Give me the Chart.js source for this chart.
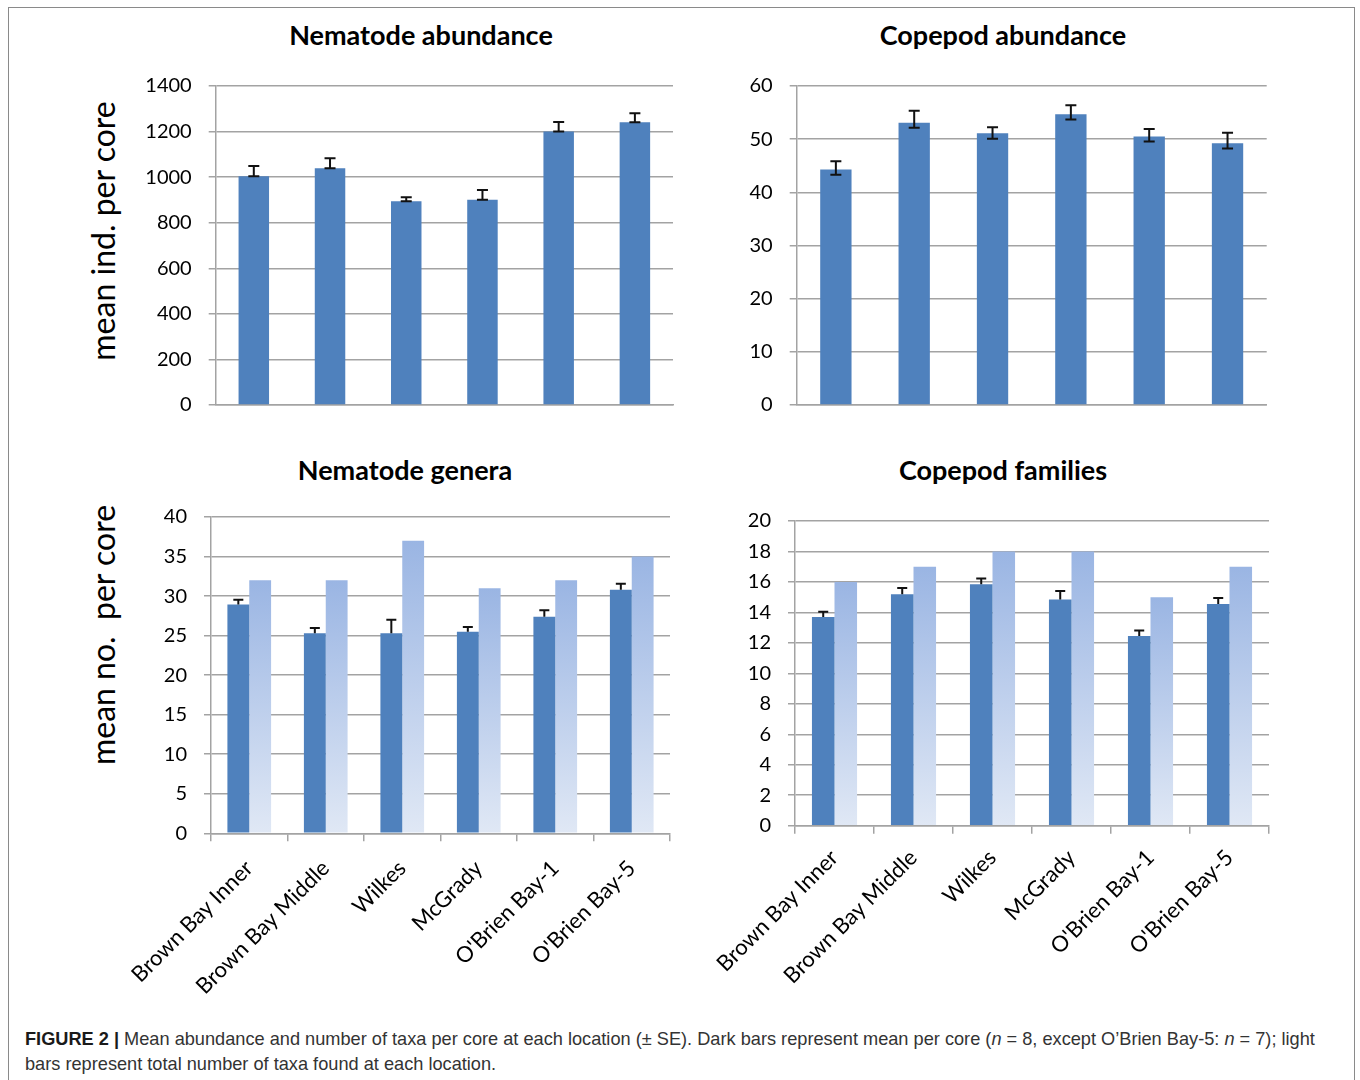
<!DOCTYPE html>
<html>
<head>
<meta charset="utf-8">
<script src="https://cdn.jsdelivr.net/npm/chart.js@4.4.1/dist/chart.umd.min.js"></script>
<style>
  html, body { margin: 0; padding: 0; background: #fff; width: 1360px; height: 1080px; overflow: hidden; }
  #frame { position: absolute; left: 8px; top: 7px; width: 1347px; height: 1120px; border: 1.5px solid #8a8a8a; box-sizing: border-box; }
  .panel { position: absolute; }
  .ptitle { position: absolute; font: bold 27px Lato, sans-serif; line-height: 32px; transform: translateX(-50%); white-space: nowrap; color: #000; }
  .ytitle { position: absolute; font: 32px Lato, sans-serif; line-height: 38px; white-space: pre; color: #000; transform: translate(-50%, -50%) rotate(-90deg); }
  #caption { position: absolute; left: 25px; top: 1027px; width: 1312px; font: 18.2px "Liberation Sans", Arial, sans-serif; line-height: 25px; color: #333; }
  #caption b { color: #1a1a1a; }
</style>
</head>
<body>
<div id="frame"></div>

<div class="ptitle" style="left:421px; top:19px;">Nematode abundance</div>
<div class="ptitle" style="left:1003px; top:19px;">Copepod abundance</div>
<div class="ptitle" style="left:405px; top:454px;">Nematode genera</div>
<div class="ptitle" style="left:1003px; top:454px;">Copepod families</div>

<div class="ytitle" style="left:103px; top:231px;">mean ind. per core</div>
<div class="ytitle" style="left:103px; top:635px;">mean no.  per core</div>

<div class="panel" style="left:20px; top:57px;"><canvas id="nemAbund" width="670" height="377"></canvas></div>
<div class="panel" style="left:700px; top:57px;"><canvas id="copAbund" width="580" height="377"></canvas></div>
<div class="panel" style="left:20px; top:488px;"><canvas id="nemGenera" width="670" height="516"></canvas></div>
<div class="panel" style="left:700px; top:492px;"><canvas id="copFamilies" width="580" height="504"></canvas></div>

<div id="caption"><b>FIGURE 2 |</b> Mean abundance and number of taxa per core at each location (± SE). Dark bars represent mean per core (<i>n</i> = 8, except O’Brien Bay-5: <i>n</i> = 7); light bars represent total number of taxa found at each location.</div>

<script>
// Sampling locations
const sites = ['Brown Bay Inner', 'Brown Bay Middle', 'Wilkes', 'McGrady', "O'Brien Bay-1", "O'Brien Bay-5"];

// Nematode abundance (mean ind. per core) and SE
const nematodeMean = [1004, 1039, 894, 901, 1200, 1241];
const nematodeSE   = [45, 44, 18, 43, 42, 39];
const nematodeTicks = { min: 0, max: 1400, step: 200 };

// Copepod abundance (mean ind. per core) and error bar extents above / below the mean
const copepodMean    = [44.3, 53.1, 51.1, 54.7, 50.5, 49.25];
const copepodSEUp    = [1.55, 2.25, 1.15, 1.7, 1.4, 1.95];
const copepodSEDown  = [1.0, 0.95, 1.0, 1.0, 0.95, 1.0];
const copepodTicks = { min: 0, max: 60, step: 10 };

// Nematode genera: mean per core, SE, total per location
const generaMean  = [28.95, 25.3, 25.3, 25.5, 27.4, 30.8];
const generaSE    = [0.6, 0.65, 1.7, 0.6, 0.8, 0.75];
const generaTotal = [32, 32, 37, 31, 32, 35];
const generaTicks = { min: 0, max: 40, step: 5 };

// Copepod families: mean per core, SE, total per location
const familiesMean  = [13.7, 15.2, 15.85, 14.85, 12.45, 14.55];
const familiesSE    = [0.35, 0.4, 0.37, 0.55, 0.37, 0.39];
const familiesTotal = [16, 17, 18, 18, 15, 17];
const familiesTicks = { min: 0, max: 20, step: 2 };

const DARK = '#4f81bd';
const GRID = '#a3a3a3';

Chart.defaults.font.family = 'Lato, sans-serif';
Chart.defaults.color = '#000';

// Draws error bars for the first dataset of a chart
const errorBars = {
  id: 'errorBars',
  afterDatasetsDraw(chart, args, opts) {
    if (!opts || !opts.up) return;
    const meta = chart.getDatasetMeta(0);
    const values = chart.data.datasets[0].data;
    const y = chart.scales.y;
    const ctx = chart.ctx;
    const cap = opts.cap || 10;
    ctx.save();
    ctx.strokeStyle = '#111';
    ctx.lineWidth = 2;
    ctx.lineCap = 'butt';
    meta.data.forEach((bar, i) => {
      const v = values[i];
      const yTop = y.getPixelForValue(v + opts.up[i]);
      const yBot = y.getPixelForValue(v - (opts.down ? opts.down[i] : 0));
      const x = bar.x;
      ctx.beginPath();
      ctx.moveTo(x, yTop); ctx.lineTo(x, yBot);
      ctx.moveTo(x - cap / 2, yTop); ctx.lineTo(x + cap / 2, yTop);
      if (opts.lowerCap) { ctx.moveTo(x - cap / 2, yBot); ctx.lineTo(x + cap / 2, yBot); }
      ctx.stroke();
    });
    ctx.restore();
  }
};

// Vertical fade for the "total" bars, from each bar's top to its base
function fadeFill(ctx) {
  const chart = ctx.chart;
  const y = chart.scales && chart.scales.y;
  if (!y || ctx.raw == null || !chart.chartArea) return '#b9cbea';
  const top = y.getPixelForValue(ctx.raw);
  const base = y.getPixelForValue(0);
  const g = chart.ctx.createLinearGradient(0, top, 0, base);
  g.addColorStop(0, '#9ab5e3');
  g.addColorStop(1, '#e0e8f5');
  return g;
}

function yScale(t, width) {
  return {
    min: t.min, max: t.max,
    ticks: { stepSize: t.step, padding: 17, font: { size: 20 }, color: '#000', callback: v => String(v) },
    grid: { color: GRID, lineWidth: 1.5, tickLength: 7 },
    border: { color: GRID, width: 1.5 },
    afterFit: s => { s.width = width; }
  };
}

function plainX() {
  return {
    ticks: { display: false },
    grid: { display: false },
    border: { color: GRID, width: 1.5 },
    afterFit: s => { s.height = 29; }
  };
}

function labelledX(height, pad) {
  return {
    ticks: { autoSkip: false, maxRotation: 45, minRotation: 45, font: { size: 22 }, color: '#000', padding: pad },
    grid: { drawOnChartArea: false, color: GRID, lineWidth: 1.5, tickLength: 8 },
    border: { color: GRID, width: 1.5 },
    afterFit: s => { s.height = height; }
  };
}

function baseOptions(padding, errOpts, scales) {
  return {
    responsive: false,
    animation: false,
    layout: { padding },
    plugins: { legend: { display: false }, tooltip: { enabled: false }, title: { display: false }, errorBars: errOpts },
    scales
  };
}

new Chart(document.getElementById('nemAbund'), {
  type: 'bar',
  data: { labels: sites, datasets: [{ data: nematodeMean, backgroundColor: DARK, barPercentage: 0.4, categoryPercentage: 1 }] },
  options: baseOptions({ top: 0, right: 17, bottom: 0, left: 0 },
    { up: nematodeSE, down: null, lowerCap: true, cap: 11 },
    { x: plainX(), y: yScale(nematodeTicks, 195.7) }),
  plugins: [errorBars]
});

new Chart(document.getElementById('copAbund'), {
  type: 'bar',
  data: { labels: sites, datasets: [{ data: copepodMean, backgroundColor: DARK, barPercentage: 0.4, categoryPercentage: 1 }] },
  options: baseOptions({ top: 0, right: 13.3, bottom: 0, left: 0 },
    { up: copepodSEUp, down: copepodSEDown, lowerCap: true, cap: 11 },
    { x: plainX(), y: yScale(copepodTicks, 96.7) }),
  plugins: [errorBars]
});

new Chart(document.getElementById('nemGenera'), {
  type: 'bar',
  data: { labels: sites, datasets: [
    { data: generaMean, backgroundColor: DARK, barPercentage: 1, categoryPercentage: 0.571 },
    { data: generaTotal, backgroundColor: fadeFill, barPercentage: 1, categoryPercentage: 0.571 }
  ] },
  options: baseOptions({ top: 0, right: 20, bottom: 0, left: 0 },
    { up: generaSE, down: null, lowerCap: false, cap: 10 },
    { x: labelledX(170.7, 14), y: yScale(generaTicks, 191) }),
  plugins: [errorBars]
});

new Chart(document.getElementById('copFamilies'), {
  type: 'bar',
  data: { labels: sites, datasets: [
    { data: familiesMean, backgroundColor: DARK, barPercentage: 1, categoryPercentage: 0.571 },
    { data: familiesTotal, backgroundColor: fadeFill, barPercentage: 1, categoryPercentage: 0.571 }
  ] },
  options: baseOptions({ top: 0, right: 11, bottom: 0, left: 0 },
    { up: familiesSE, down: null, lowerCap: false, cap: 10 },
    { x: labelledX(170.3, 11), y: yScale(familiesTicks, 95) }),
  plugins: [errorBars]
});
</script>
</body>
</html>
